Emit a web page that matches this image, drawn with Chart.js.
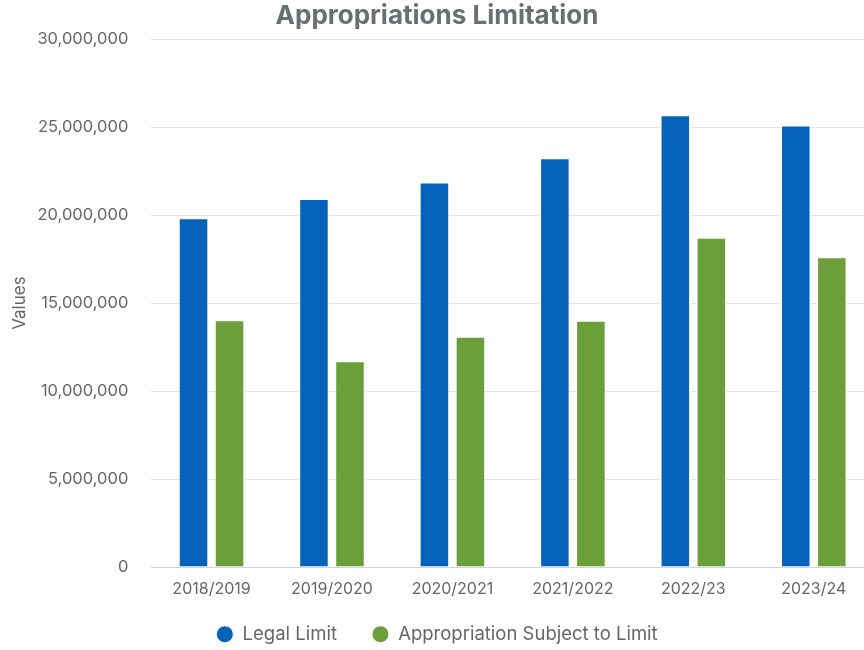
<!DOCTYPE html>
<html>
<head>
<meta charset="utf-8">
<script src="https://cdn.jsdelivr.net/npm/chart.js@4.4.1/dist/chart.umd.min.js"></script>
<style>
  html, body { margin: 0; padding: 0; overflow: hidden; background: #fff; }
  #wrap { width: 874px; height: 650px; }
</style>
</head>
<body>
<div id="wrap"><canvas id="chartAppropriations"></canvas></div>
<script>
const years = ['2018/2019', '2019/2020', '2020/2021', '2021/2022', '2022/23', '2023/24']
const legalLimit = [19820000, 20910000, 21860000, 23230000, 25680000, 25100000]
const subjectToLimit = [14020000, 11700000, 13090000, 14000000, 18710000, 17610000]
const yTicks = [0, 5000000, 10000000, 15000000, 20000000, 25000000, 30000000]

Chart.defaults.font.family = 'Inter'
Chart.defaults.color = '#666666'

// keep the legend compact: the wide item spacing (labels.padding) would otherwise
// make it very tall and squash the plot
const legendHeight = {
    id: 'legendHeight',
    beforeLayout(chart) {
        const legend = chart.legend
        if (!legend || legend._fixedHeight) return
        const fit = legend.fit
        legend.fit = function () {
            fit.call(this)
            this.height = 50
        }
        legend._fixedHeight = true
    },
    afterLayout(chart) {
        // pull the row up a little, the box (and its clip) still reaches the bottom
        chart.legend.top -= 10
    }
}

const data = {
    labels: years,
    datasets: [{
        label: 'Legal Limit',
        data: legalLimit,
        backgroundColor: '#0563bb',
        borderColor: '#ffffff',
        borderWidth: 1,
        borderSkipped: 'bottom',
        categoryPercentage: 0.598,
        barPercentage: 0.82
    },
    {
        label: 'Appropriation Subject to Limit',
        data: subjectToLimit,
        backgroundColor: '#6a9f3a',
        borderColor: '#ffffff',
        borderWidth: 1,
        borderSkipped: 'bottom',
        categoryPercentage: 0.598,
        barPercentage: 0.82
    }]
}

const options = {
    responsive: true,
    maintainAspectRatio: false,
    animation: false,
    layout: { padding: 0 },
    plugins: {
        title: {
            display: true,
            text: 'Appropriations Limitation',
            color: '#6b6e73',
            font: { size: 26, weight: 'bold' },
            padding: { top: 1, bottom: 7 }
        },
        legend: {
            position: 'bottom',
            labels: {
                usePointStyle: true,
                pointStyle: 'circle',
                boxWidth: 17,
                boxHeight: 12,
                padding: 35,
                color: '#666666',
                font: { size: 18.5 }
            }
        },
        tooltip: { enabled: false }
    },
    scales: {
        x: {
            grid: { display: false, drawTicks: false },
            border: { color: '#ccd6eb', width: 1 },
            ticks: { padding: 13, font: { size: 16 }, color: '#666666' },
            afterFit: scale => { scale.height = 33 }
        },
        y: {
            min: 0,
            max: 30000000,
            afterBuildTicks: scale => { scale.ticks = yTicks.map(v => ({ value: v })) },
            grid: { color: '#e6e6e6', drawTicks: false },
            border: { display: false },
            ticks: {
                padding: 23,
                font: { size: 16.5 },
                color: '#666666',
                callback: v => v.toLocaleString('en-US')
            },
            title: {
                display: true,
                text: 'Values',
                color: '#666666',
                font: { size: 17 },
                padding: { top: 10, bottom: 0 }
            },
            afterFit: scale => { scale.width = 151.3 }
        }
    }
}

new Chart('chartAppropriations', { type: 'bar', data, options, plugins: [legendHeight] })
</script>
</body>
</html>
